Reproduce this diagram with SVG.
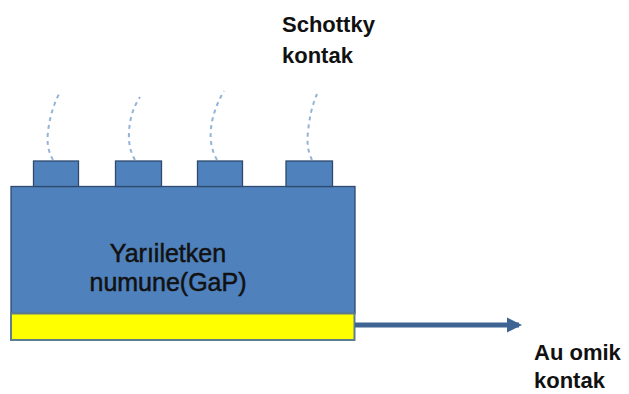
<svg xmlns="http://www.w3.org/2000/svg" width="629" height="394" viewBox="0 0 629 394">
<style>
.lbl{font-family:"Liberation Sans",Arial,sans-serif;fill:#111;}
.b{font-weight:bold;font-size:22px;}
.r{font-size:25px;stroke:#111;stroke-width:0.5;}
.blk{fill:#4F81BD;stroke:#2F4A6E;stroke-width:1.3;}
.wire{fill:none;stroke:#95B3D7;stroke-width:2;stroke-dasharray:4 4;}
</style>
<defs>
<marker id="ah" viewBox="0 0 10 10" refX="8" refY="5" markerWidth="3" markerHeight="3.2" orient="auto" markerUnits="strokeWidth">
<path d="M0,0 L10,5 L0,10 Z" fill="#3E6494"/>
</marker>
</defs>
<rect width="629" height="394" fill="#fff"/>
<g id="wires">
<path class="wire" d="M53,160 Q46,148 48,132 Q50,112 59,94"/>
<path class="wire" d="M135,160 Q128,148 129,132 Q130,112 140,97"/>
<path class="wire" d="M217,160 Q209,146 211,128 Q213,110 224,91"/>
<path class="wire" d="M312,160 Q306,148 308,132 Q310,110 317,94"/>
</g>
<g id="substrate"><rect class="blk" x="11" y="186.5" width="344" height="127"/>
<text class="lbl r" x="168" y="262" text-anchor="middle">Yarıiletken</text>
<text class="lbl r" x="168" y="291" text-anchor="middle">numune(GaP)</text></g>
<g id="contact1"><rect class="blk" x="33.5" y="161" width="45" height="25.5"/></g>
<g id="contact2"><rect class="blk" x="115.5" y="161" width="46" height="25.5"/></g>
<g id="contact3"><rect class="blk" x="197.5" y="161" width="45" height="25.5"/></g>
<g id="contact4"><rect class="blk" x="286" y="161" width="46.5" height="25.5"/></g>
<g id="ohmic"><rect x="11" y="313.5" width="343.5" height="26.5" fill="#FFFF00" stroke="#5E7D8E" stroke-width="2"/></g>
<g id="connectors">
<line x1="355" y1="325" x2="519" y2="325" stroke="#3E6494" stroke-width="5" marker-end="url(#ah)"/>
</g>
<g id="label-schottky">
<text class="lbl b" x="282" y="32">Schottky</text>
<text class="lbl b" x="282" y="63">kontak</text>
</g>
<g id="label-au">
<text class="lbl b" x="534" y="360">Au omik</text>
<text class="lbl b" x="534" y="388">kontak</text>
</g>
</svg>
